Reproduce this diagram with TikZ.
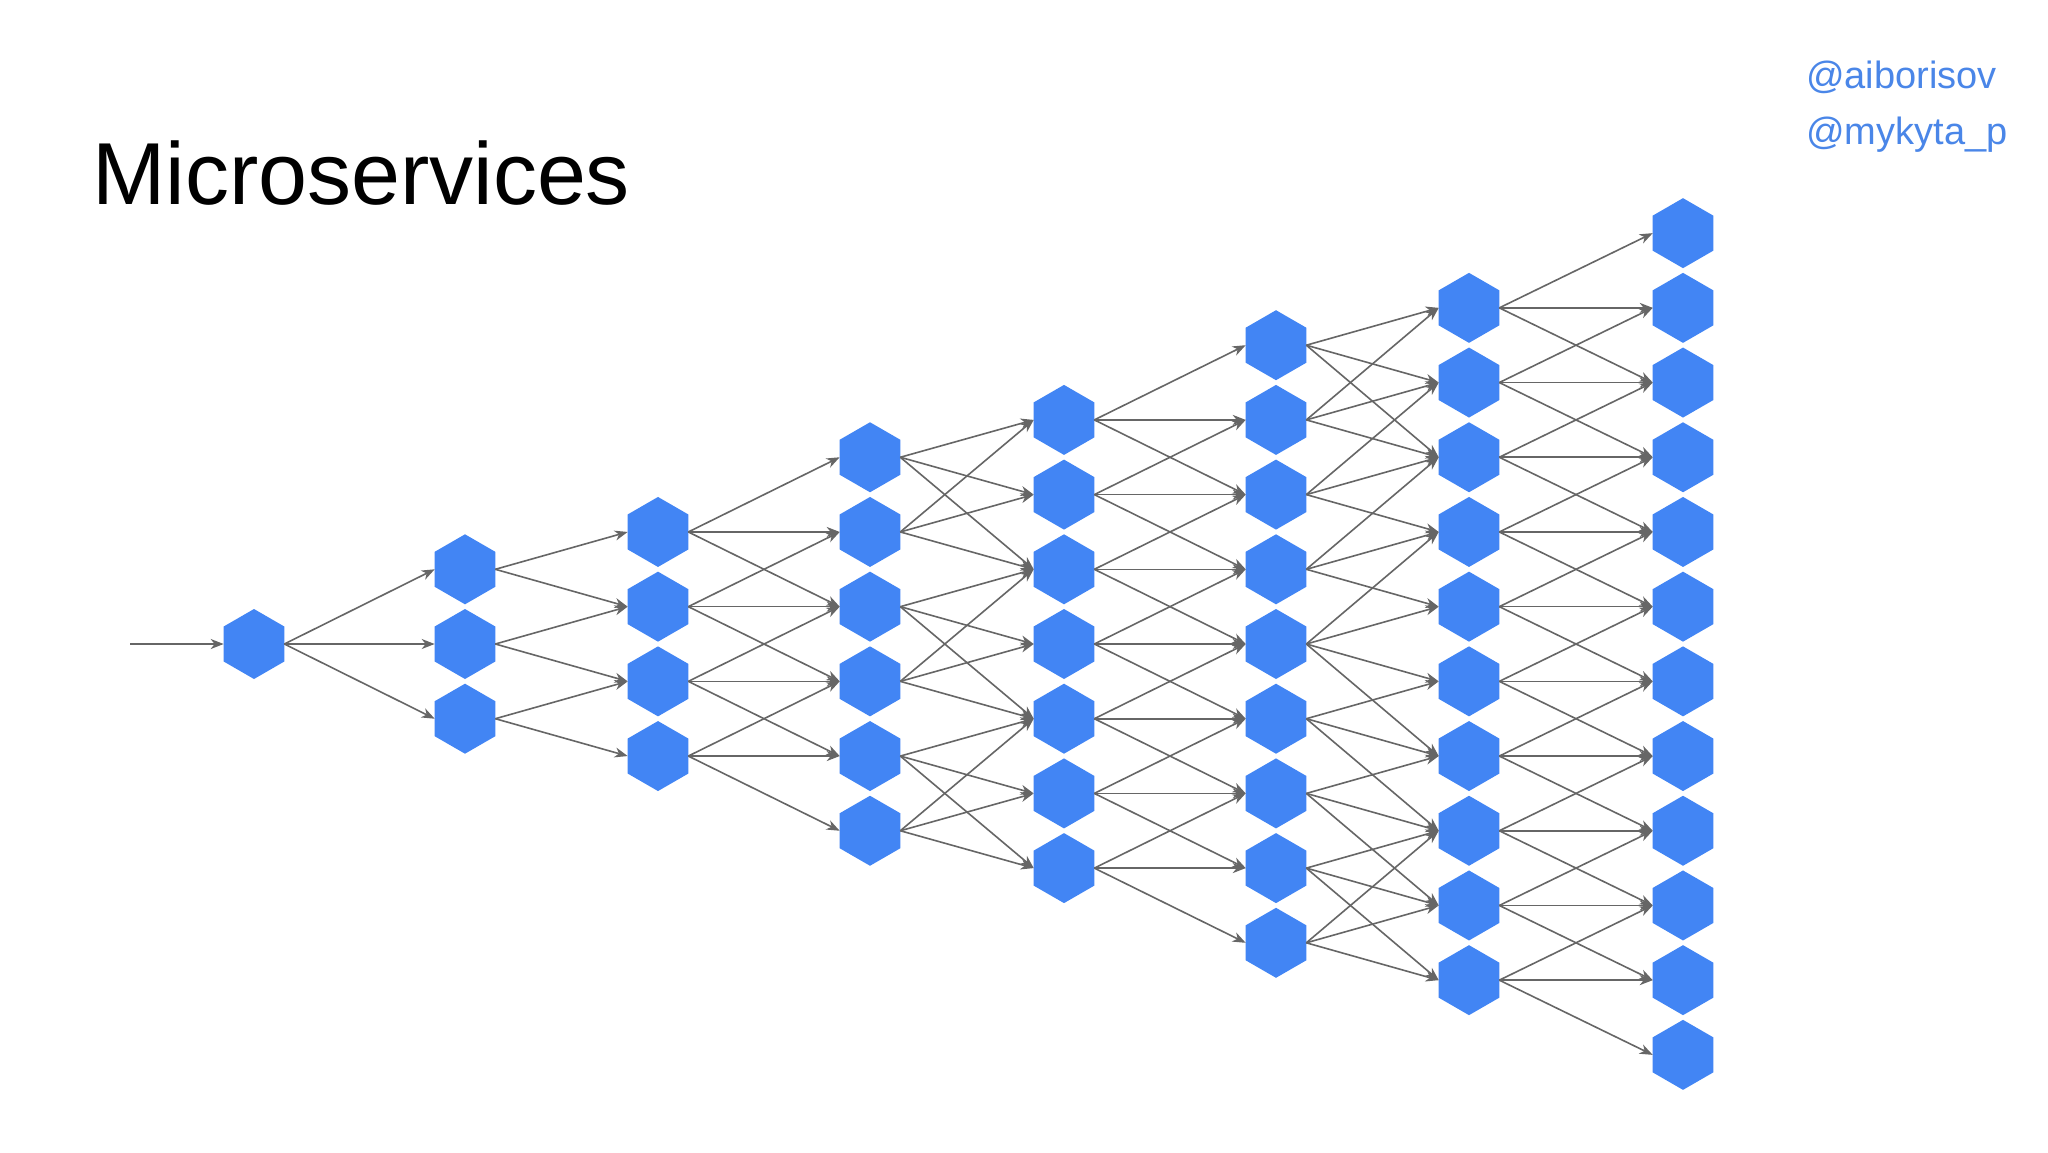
\documentclass[tikz,border=0pt]{standalone}
\usepackage{fontspec}
\setmainfont{Liberation Sans}
\usetikzlibrary{shapes.geometric,arrows.meta}
\definecolor{hexblue}{HTML}{4285F4}
\definecolor{handle}{HTML}{4A86E8}
\definecolor{edgegray}{HTML}{666666}
\tikzset{
  hexnode/.style={regular polygon,regular polygon sides=6,shape border rotate=30,
    minimum size=70pt,inner sep=0pt,outer sep=0pt,fill=hexblue,draw=none},
  link/.style={draw=edgegray,line width=1.6pt,-{Stealth[length=13pt,width=10pt,inset=4pt]}},
}
\begin{document}
\begin{tikzpicture}[x=1pt,y=-1pt]
\useasboundingbox (0,0) rectangle (2048,1152);
\fill[white] (0,0) rectangle (2048,1152);
\node[anchor=base west,inner sep=0pt,font=\fontsize{88}{100}\selectfont] (title) at (92,204) {Microservices};
\node[anchor=base west,inner sep=0pt,text=handle,font=\fontsize{38}{44}\selectfont] (h1) at (1806,88) {@aiborisov};
\node[anchor=base west,inner sep=0pt,text=handle,font=\fontsize{38}{44}\selectfont] (h2) at (1806,144) {@mykyta\_p};
% columns: index/x/count
\foreach \c/\x/\n in {1/254/1,2/465/3,3/658/4,4/870/6,5/1064/7,6/1276/9,7/1469/10,8/1683/12}{
  \foreach \i in {1,...,\n}{
    \node[hexnode] (c\c n\i) at (\x,{644+(\i-(\n+1)/2)*74.7}) {};
  }
}
\coordinate (start) at (130,644);
\draw[link] (start) -- (c1n1.west);
% col1 -> col2
\foreach \j in {1,2,3}{\draw[link] (c1n1.east) -- (c2n\j.west);}
% col2 -> col3
\foreach \i in {1,2,3}{
  \pgfmathtruncatemacro\ja{\i+1}
  \draw[link] (c2n\i.east) -- (c3n\i.west);
  \draw[link] (c2n\i.east) -- (c3n\ja.west);
}
% col3 -> col4
\foreach \i in {1,...,4}{
  \foreach \d in {0,1,2}{
    \pgfmathtruncatemacro\j{\i+\d}
    \draw[link] (c3n\i.east) -- (c4n\j.west);
  }
}
% col4 -> col5 (pairs)
\foreach \i/\b in {1/1,2/1,3/3,4/3,5/5,6/5}{
  \foreach \d in {0,1,2}{
    \pgfmathtruncatemacro\j{\b+\d}
    \draw[link] (c4n\i.east) -- (c5n\j.west);
  }
}
% col5 -> col6
\foreach \i in {1,...,7}{
  \foreach \d in {0,1,2}{
    \pgfmathtruncatemacro\j{\i+\d}
    \draw[link] (c5n\i.east) -- (c6n\j.west);
  }
}
% col6 -> col7
\foreach \i/\js in {1/{1,2,3},2/{1,2,3},3/{2,3,4},4/{3,4,5},5/{4,5,6,7},6/{6,7,8},7/{7,8,9},8/{8,9,10},9/{8,9,10}}{
  \foreach \j in \js{
    \draw[link] (c6n\i.east) -- (c7n\j.west);
  }
}
% col7 -> col8
\foreach \i in {1,...,10}{
  \foreach \d in {0,1,2}{
    \pgfmathtruncatemacro\j{\i+\d}
    \draw[link] (c7n\i.east) -- (c8n\j.west);
  }
}
\end{tikzpicture}
\end{document}
